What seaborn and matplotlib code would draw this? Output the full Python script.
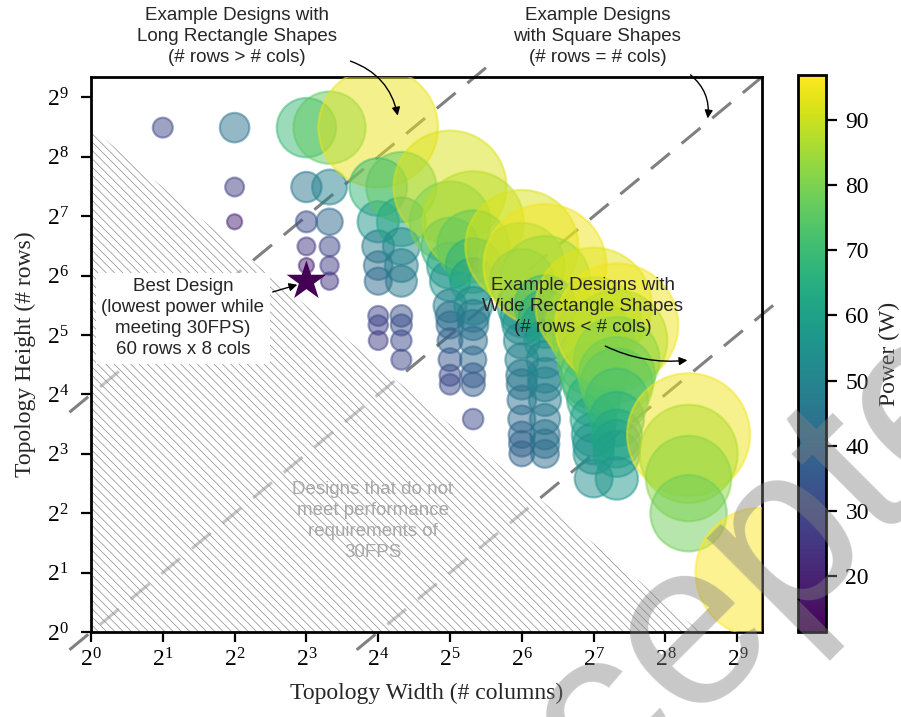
import numpy as np
import pandas as pd
import matplotlib
matplotlib.use("Agg")
import matplotlib.pyplot as plt
import seaborn as sns
from matplotlib.colors import Normalize
from matplotlib.cm import ScalarMappable
from matplotlib.patches import Polygon

# design points: array width (cols), height (rows), power (W)
cols = ([2] + [4] * 3 + [8] * 5 + [10] * 6 + [16] * 9 + [20] * 9
        + [32] * 12 + [40] * 12 + [64] * 15 + [80] * 14
        + [128] * 12 + [160] * 11 + [320] * 4 + [640])
rows = [360,
        360, 180, 120,
        360, 180, 120, 90, 72,
        360, 180, 120, 90, 72, 60,
        360, 180, 120, 90, 72, 60, 40, 36, 30,
        180, 120, 90, 72, 60, 40, 36, 30, 24,
        180, 120, 90, 72, 60, 45, 40, 36, 30, 24, 20, 18,
        120, 90, 72, 60, 45, 40, 36, 30, 24, 20, 18, 12,
        90, 72, 60, 45, 40, 36, 30, 24, 20, 18, 15, 12, 10, 9, 8,
        72, 60, 45, 40, 36, 30, 24, 20, 18, 15, 12, 10, 9, 8,
        45, 36, 30, 24, 20, 18, 15, 12, 10, 9, 8, 6,
        36, 30, 24, 20, 18, 15, 12, 10, 9, 8, 6,
        10, 8, 6, 4,
        2]
power = [30,
         44, 28, 20,
         69, 45, 32, 26, 20,
         76, 50, 40, 30, 27, 25,
         94, 68, 56, 47, 43, 41, 30, 29, 28,
         75, 62, 52, 48, 46, 33, 32, 31, 30,
         92, 80, 68, 60, 55, 48, 43, 41, 38, 35, 32, 31,
         88, 76, 66, 60, 53, 47, 45, 42, 40, 37, 36, 31,
         92, 82, 72, 62, 57, 54, 51, 48, 46, 45, 43, 41, 40, 39, 38,
         95, 84, 70, 64, 60, 56, 52, 50, 49, 47, 45, 44, 43, 42,
         93, 86, 80, 76, 73, 70, 65, 60, 58, 56, 55, 53,
         95, 88, 82, 78, 76, 71, 66, 63, 61, 60, 57,
         95, 87, 82, 78,
         96.9]

best_cols, best_rows, best_power = 8, 60, 11.4
shape_ratios = [16, 1, 1 / 16]     # rows / cols of the dashed guide lines
fps_limit = 360                    # rows x cols below which 30FPS is not met

df = pd.DataFrame({"cols": cols, "rows": rows, "power": power})
best = pd.DataFrame({"cols": [best_cols], "rows": [best_rows], "power": [best_power]})
# bubble area grows quickly with power
df["bubble"] = (1.44 * 4.3 * np.exp(0.028 * df["power"])) ** 2

sns.set_theme(style="ticks")
plt.rcParams["font.family"] = ["Liberation Serif", "DejaVu Serif"]
plt.rcParams["mathtext.fontset"] = "stix"
plt.rcParams["axes.edgecolor"] = "black"
plt.rcParams["axes.linewidth"] = 2
plt.rcParams["xtick.color"] = "black"
plt.rcParams["ytick.color"] = "black"
plt.rcParams["hatch.linewidth"] = 0.5
sans = ["Liberation Sans", "DejaVu Sans"]
note = dict(ha="center", va="center", fontsize=13.5, family=sans, linespacing=1.3)

norm = Normalize(min(power + [best_power]), max(power + [best_power]))

fig = plt.figure(figsize=(9.01, 7.17), dpi=100)
ax = fig.add_axes([0.101, 0.1185, 0.7447, 0.7741])
cax = fig.add_axes([0.8857, 0.1185, 0.0311, 0.7769])

# guide lines for long / square / wide shapes
lo, hi = 2 ** -0.3, 2 ** 9.5
for ratio in shape_ratios:
    x0, x1 = max(lo, lo / ratio), min(hi, hi / ratio)
    ax.plot([x0, x1], [x0 * ratio, x1 * ratio], color="#808080", lw=2.2,
            linestyle=(0, (8, 5)), clip_on=False, zorder=2)

# region that does not meet 30FPS
ax.add_patch(Polygon([(1, 1), (1, fps_limit), (fps_limit, 1)], closed=True,
                     facecolor=(1, 1, 1, 0.55), edgecolor="#8c8c8c",
                     hatch="\\\\\\\\", lw=0, zorder=2.5))

sns.scatterplot(data=df, x="cols", y="rows", hue="power", size="bubble",
                sizes=(df["bubble"].min(), df["bubble"].max()),
                palette="viridis", hue_norm=norm, alpha=0.5,
                edgecolor="face", linewidth=1.6, legend=False, ax=ax, zorder=3)
sns.scatterplot(data=best, x="cols", y="rows", hue="power", palette="viridis",
                hue_norm=norm, marker="*", s=900, edgecolor="none",
                legend=False, ax=ax, zorder=4)

ax.set_xscale("log", base=2)
ax.set_yscale("log", base=2)
ax.set_xlim(1, 650)
ax.set_ylim(1, 650)
ax.set_xticks([2 ** k for k in range(10)])
ax.set_yticks([2 ** k for k in range(10)])
ax.minorticks_off()
ax.tick_params(direction="out", length=7, width=1.6, labelsize=17, pad=5)
ax.tick_params(axis="y", pad=9)
ax.set_xlabel("Topology Width (# columns)", fontsize=17, labelpad=8)
ax.set_ylabel("Topology Height (# rows)", fontsize=17, labelpad=8)

fig.text(0.414, 0.273, "Designs that do not\nmeet performance\nrequirements of\n30FPS",
         color="#a8a8a8", zorder=2.6, **note)

# annotations (figure fraction)
arrow = dict(arrowstyle="-|>", color="black", lw=1, mutation_scale=12)
fig.text(0.263, 0.949, "Example Designs with\nLong Rectangle Shapes\n(# rows > # cols)", **note)
fig.text(0.663, 0.949, "Example Designs\nwith Square Shapes\n(# rows = # cols)", **note)
ax.text(0.647, 0.572, "Example Designs with\nWide Rectangle Shapes\n(# rows < # cols)",
        transform=fig.transFigure, zorder=6, **note)
ax.annotate("", xy=(0.442, 0.835), xytext=(0.386, 0.916), xycoords="figure fraction",
            textcoords="figure fraction", annotation_clip=False,
            arrowprops=dict(arrow, connectionstyle="arc3,rad=-0.3"), zorder=6)
ax.annotate("", xy=(0.785, 0.831), xytext=(0.764, 0.898), xycoords="figure fraction",
            textcoords="figure fraction", annotation_clip=False,
            arrowprops=dict(arrow, connectionstyle="arc3,rad=-0.3"), zorder=6)
ax.annotate("", xy=(0.766, 0.498), xytext=(0.669, 0.519), xycoords="figure fraction",
            textcoords="figure fraction", annotation_clip=False,
            arrowprops=dict(arrow, connectionstyle="arc3,rad=0.15"), zorder=6)
ax.annotate("Best Design\n(lowest power while\nmeeting 30FPS)\n60 rows x 8 cols",
            xy=(0.333, 0.604), xytext=(0.203, 0.556), xycoords="figure fraction",
            textcoords="figure fraction", annotation_clip=False, zorder=6,
            bbox=dict(boxstyle="square,pad=0.3", fc="white", ec="none"),
            arrowprops=dict(arrow), **note)

sm = ScalarMappable(norm=norm, cmap="viridis")
cbar = fig.colorbar(sm, cax=cax)
cbar.outline.set_linewidth(2)
cbar.set_ticks([20, 30, 40, 50, 60, 70, 80, 90])
cbar.ax.tick_params(labelsize=17, width=1.6, length=8, pad=6)
cbar.set_label("Power (W)", fontsize=17, labelpad=7)

# watermark
fig.text(0.845, 0.08, "Accepted", rotation=45, rotation_mode="anchor",
         ha="center", va="baseline", fontsize=170, color="#808080", alpha=0.43,
         family=sans, zorder=10)

fig.savefig("out.png", dpi=100)
